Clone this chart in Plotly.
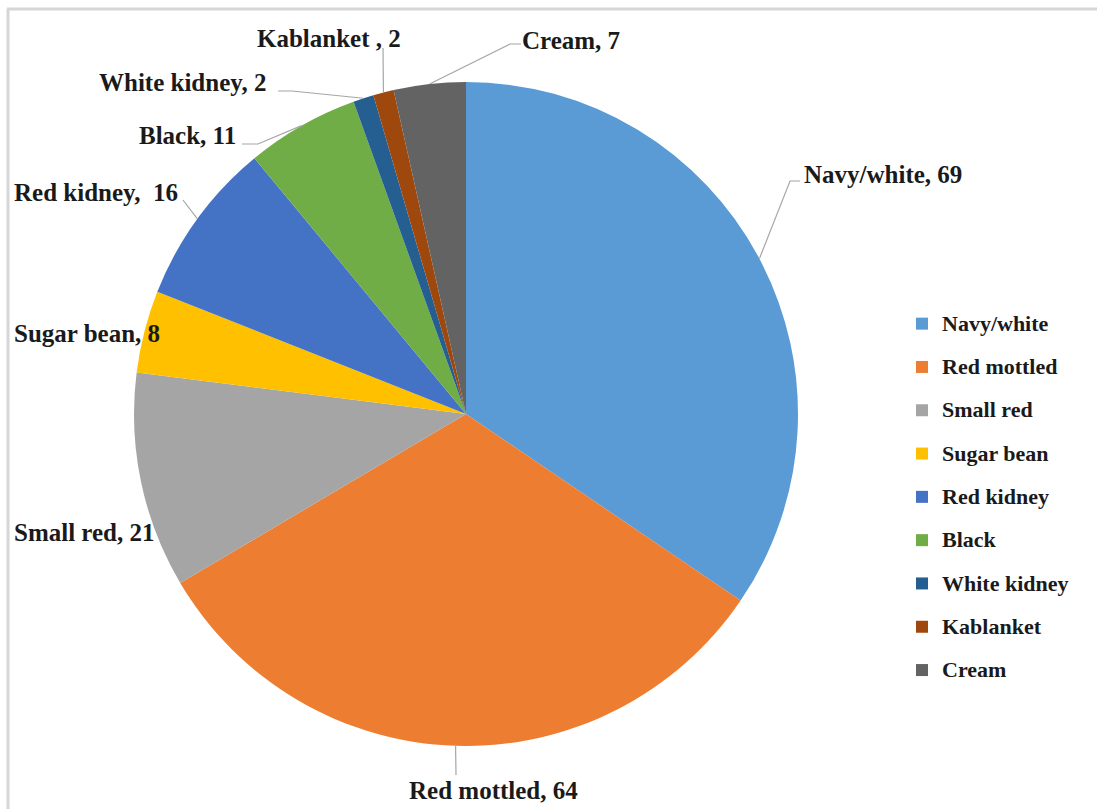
import math
import plotly.graph_objects as go

W, H = 1097, 809

# Bean market classes and their counts
categories = ["Navy/white", "Red mottled", "Small red", "Sugar bean", "Red kidney",
              "Black", "White kidney", "Kablanket", "Cream"]
counts = [69, 64, 21, 8, 16, 11, 2, 2, 7]
colors = ["#5B9BD5", "#ED7D31", "#A5A5A5", "#FFC000", "#4472C4",
          "#70AD47", "#255E91", "#9E480E", "#636363"]
# separator between name and value in each data label
label_seps = [", ", ", ", ", ", ", ", ",  ", ", ", ", ", " , ", ", "]

# pie placement in pixels
CX, CY, R = 466, 414, 332

# data-label placement: text anchor (px), horizontal anchor, leader elbow points (px)
callouts = [
    dict(pos=(802, 175), anchor="left", elbow=[(790, 181), (800, 181)]),
    dict(pos=(493, 790), anchor="center", elbow=[(456, 775)]),
    dict(pos=(12, 532), anchor="left", elbow=None),
    dict(pos=(12, 333), anchor="left", elbow=None),
    dict(pos=(12, 193), anchor="left", elbow=[(183, 200)]),
    dict(pos=(238, 135), anchor="right", elbow=[(258, 144), (242, 144)]),
    dict(pos=(97, 83), anchor="left", elbow=[(292, 91), (278, 91)]),
    dict(pos=(255, 38), anchor="left", elbow=[(383, 48)]),
    dict(pos=(520, 41), anchor="left", elbow=[(510, 44), (521, 44)]),
]

FONT = "Liberation Serif, Times New Roman, serif"
TEXT_COLOR = "#1a1a1a"


def px(x, y):
    return x / W, 1 - y / H


fig = go.Figure()

legend_labels = [
    f"<span style='font-size:22px;baseline-shift:5px'>{c}</span>" for c in categories
]

fig.add_trace(go.Pie(
    labels=legend_labels,
    values=counts,
    customdata=categories,
    hovertemplate="%{customdata}: %{value}<extra></extra>",
    marker=dict(colors=colors, line=dict(width=0)),
    sort=False,
    direction="clockwise",
    rotation=0,
    textinfo="none",
    domain=dict(x=[(CX - R) / W, (CX + R) / W], y=[1 - (CY + R) / H, 1 - (CY - R) / H]),
    showlegend=True,
))

total = sum(counts)
shapes = []
annotations = []
cum = 0
for name, val, sep, co in zip(categories, counts, label_seps, callouts):
    theta = 2 * math.pi * (cum + val / 2) / total
    cum += val
    ex = CX + R * math.sin(theta)
    ey = CY - R * math.cos(theta)
    if co["elbow"]:
        pts = [(ex, ey)] + co["elbow"]
        path = "M " + " L ".join(f"{px(x, y)[0]:.5f},{px(x, y)[1]:.5f}" for x, y in pts)
        shapes.append(dict(type="path", path=path, xref="paper", yref="paper",
                           line=dict(color="#a6a6a6", width=1.2)))
    tx, ty = px(*co["pos"])
    annotations.append(dict(
        text=f"{name}{sep}{val}", x=tx, y=ty, xref="paper", yref="paper",
        xanchor=co["anchor"], yanchor="middle", showarrow=False,
        font=dict(family=FONT, size=25, color=TEXT_COLOR, weight="bold"),
    ))

# chart-area frame (top and left edges)
shapes.append(dict(type="line", xref="paper", yref="paper",
                   x0=7 / W, x1=1.0, y0=1 - 9 / H, y1=1 - 9 / H,
                   line=dict(color="#d6d6d6", width=3)))
shapes.append(dict(type="line", xref="paper", yref="paper",
                   x0=8 / W, x1=8 / W, y0=1 - 9 / H, y1=0.0,
                   line=dict(color="#d6d6d6", width=3)))

fig.update_layout(
    width=W, height=H,
    margin=dict(l=0, r=0, t=0, b=0),
    paper_bgcolor="white",
    plot_bgcolor="white",
    shapes=shapes,
    annotations=annotations,
    legend=dict(
        x=902 / W, y=1 - 297 / H, xanchor="left", yanchor="top",
        font=dict(family=FONT, size=31, color=TEXT_COLOR, weight="bold"),
        bgcolor="rgba(0,0,0,0)",
    ),
)

fig.write_html("out.html", config={"displayModeBar": False})
